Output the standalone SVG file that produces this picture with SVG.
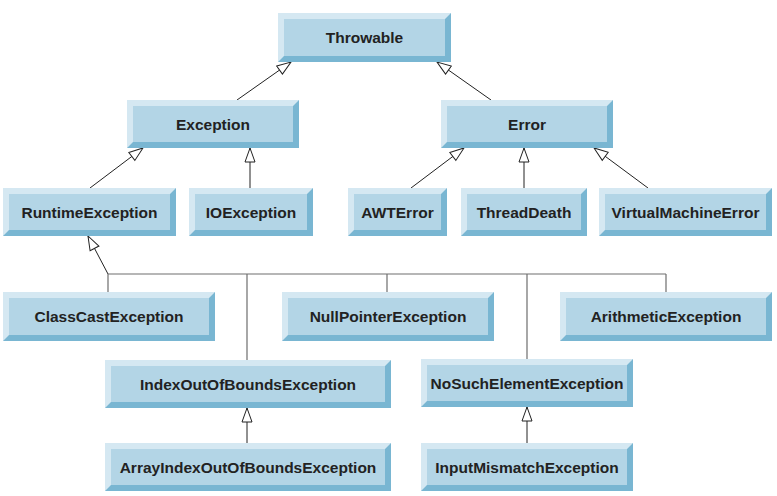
<svg xmlns="http://www.w3.org/2000/svg" width="777" height="496" viewBox="0 0 777 496">
<defs>
<marker id="tri" viewBox="0 0 16 12" refX="15" refY="6" markerWidth="16" markerHeight="12" markerUnits="userSpaceOnUse" orient="auto">
<path d="M1,1 L15,6 L1,11 Z" fill="#fff" stroke="#222" stroke-width="1"/>
</marker>
<style>
.lt{fill:#d5e8f2}
.dk{fill:#79b6d2}
.fc{fill:#b3d5e6}
.t{font-family:"Liberation Sans",Arial,sans-serif;font-weight:bold;font-size:15.5px;fill:#222;text-anchor:middle}
.c{stroke:#222;stroke-width:1;fill:none}
.g{stroke:#6e6e6e;stroke-width:1.2;fill:none}
</style>
</defs>
<rect width="777" height="496" fill="#fff"/>
<g id="connectors">
<line class="c" x1="237" y1="100" x2="291" y2="62" marker-end="url(#tri)"/>
<line class="c" x1="491" y1="100" x2="437" y2="62" marker-end="url(#tri)"/>
<line class="c" x1="90" y1="188" x2="143" y2="148" marker-end="url(#tri)"/>
<line class="c" x1="250" y1="188" x2="250" y2="148" marker-end="url(#tri)"/>
<line class="c" x1="411" y1="188" x2="464" y2="148" marker-end="url(#tri)"/>
<line class="c" x1="524" y1="188" x2="524" y2="148" marker-end="url(#tri)"/>
<line class="c" x1="648" y1="188" x2="594" y2="148" marker-end="url(#tri)"/>
<line class="c" x1="108" y1="274" x2="88" y2="236" marker-end="url(#tri)"/>
<path class="g" d="M108,274 H666 M108,274 V292 M247,274 V360 M387,274 V292 M527,274 V359 M666,274 V292"/>
<line class="c" x1="247" y1="443" x2="247" y2="408" marker-end="url(#tri)"/>
<line class="c" x1="527" y1="443" x2="527" y2="407" marker-end="url(#tri)"/>
</g>
<g id="Throwable">
<rect class="lt" x="278" y="13" width="173" height="49"/>
<path class="dk" d="M451,13 V62 H278 L284,56 H445 V19 Z"/>
<rect class="fc" x="284" y="19" width="161" height="37"/>
<text class="t" x="364.5" y="43">Throwable</text>
</g>
<g id="Exception">
<rect class="lt" x="127" y="100" width="172" height="48"/>
<path class="dk" d="M299,100 V148 H127 L133,142 H293 V106 Z"/>
<rect class="fc" x="133" y="106" width="160" height="36"/>
<text class="t" x="213" y="129.5">Exception</text>
</g>
<g id="Error">
<rect class="lt" x="441" y="100" width="172" height="48"/>
<path class="dk" d="M613,100 V148 H441 L447,142 H607 V106 Z"/>
<rect class="fc" x="447" y="106" width="160" height="36"/>
<text class="t" x="527" y="129.5">Error</text>
</g>
<g id="RuntimeException">
<rect class="lt" x="3" y="188" width="173" height="48"/>
<path class="dk" d="M176,188 V236 H3 L9,230 H170 V194 Z"/>
<rect class="fc" x="9" y="194" width="161" height="36"/>
<text class="t" x="89.5" y="217.5">RuntimeException</text>
</g>
<g id="IOException">
<rect class="lt" x="189" y="188" width="124" height="48"/>
<path class="dk" d="M313,188 V236 H189 L195,230 H307 V194 Z"/>
<rect class="fc" x="195" y="194" width="112" height="36"/>
<text class="t" x="251" y="217.5">IOException</text>
</g>
<g id="AWTError">
<rect class="lt" x="348" y="188" width="99" height="48"/>
<path class="dk" d="M447,188 V236 H348 L354,230 H441 V194 Z"/>
<rect class="fc" x="354" y="194" width="87" height="36"/>
<text class="t" x="397.5" y="217.5">AWTError</text>
</g>
<g id="ThreadDeath">
<rect class="lt" x="461" y="188" width="126" height="48"/>
<path class="dk" d="M587,188 V236 H461 L467,230 H581 V194 Z"/>
<rect class="fc" x="467" y="194" width="114" height="36"/>
<text class="t" x="524" y="217.5">ThreadDeath</text>
</g>
<g id="VirtualMachineError">
<rect class="lt" x="599" y="188" width="173" height="48"/>
<path class="dk" d="M772,188 V236 H599 L605,230 H766 V194 Z"/>
<rect class="fc" x="605" y="194" width="161" height="36"/>
<text class="t" x="685.5" y="217.5">VirtualMachineError</text>
</g>
<g id="ClassCastException">
<rect class="lt" x="3" y="292" width="212" height="49"/>
<path class="dk" d="M215,292 V341 H3 L9,335 H209 V298 Z"/>
<rect class="fc" x="9" y="298" width="200" height="37"/>
<text class="t" x="109" y="322">ClassCastException</text>
</g>
<g id="NullPointerException">
<rect class="lt" x="282" y="292" width="212" height="49"/>
<path class="dk" d="M494,292 V341 H282 L288,335 H488 V298 Z"/>
<rect class="fc" x="288" y="298" width="200" height="37"/>
<text class="t" x="388" y="322">NullPointerException</text>
</g>
<g id="ArithmeticException">
<rect class="lt" x="560" y="292" width="212" height="49"/>
<path class="dk" d="M772,292 V341 H560 L566,335 H766 V298 Z"/>
<rect class="fc" x="566" y="298" width="200" height="37"/>
<text class="t" x="666" y="322">ArithmeticException</text>
</g>
<g id="IndexOutOfBoundsException">
<rect class="lt" x="105" y="360" width="286" height="48"/>
<path class="dk" d="M391,360 V408 H105 L111,402 H385 V366 Z"/>
<rect class="fc" x="111" y="366" width="274" height="36"/>
<text class="t" x="248" y="389.5">IndexOutOfBoundsException</text>
</g>
<g id="NoSuchElementException">
<rect class="lt" x="421" y="359" width="212" height="48"/>
<path class="dk" d="M633,359 V407 H421 L427,401 H627 V365 Z"/>
<rect class="fc" x="427" y="365" width="200" height="36"/>
<text class="t" x="527" y="388.5">NoSuchElementException</text>
</g>
<g id="ArrayIndexOutOfBoundsException">
<rect class="lt" x="105" y="443" width="286" height="48"/>
<path class="dk" d="M391,443 V491 H105 L111,485 H385 V449 Z"/>
<rect class="fc" x="111" y="449" width="274" height="36"/>
<text class="t" x="248" y="472.5">ArrayIndexOutOfBoundsException</text>
</g>
<g id="InputMismatchException">
<rect class="lt" x="421" y="443" width="212" height="48"/>
<path class="dk" d="M633,443 V491 H421 L427,485 H627 V449 Z"/>
<rect class="fc" x="427" y="449" width="200" height="36"/>
<text class="t" x="527" y="472.5">InputMismatchException</text>
</g>
</svg>
